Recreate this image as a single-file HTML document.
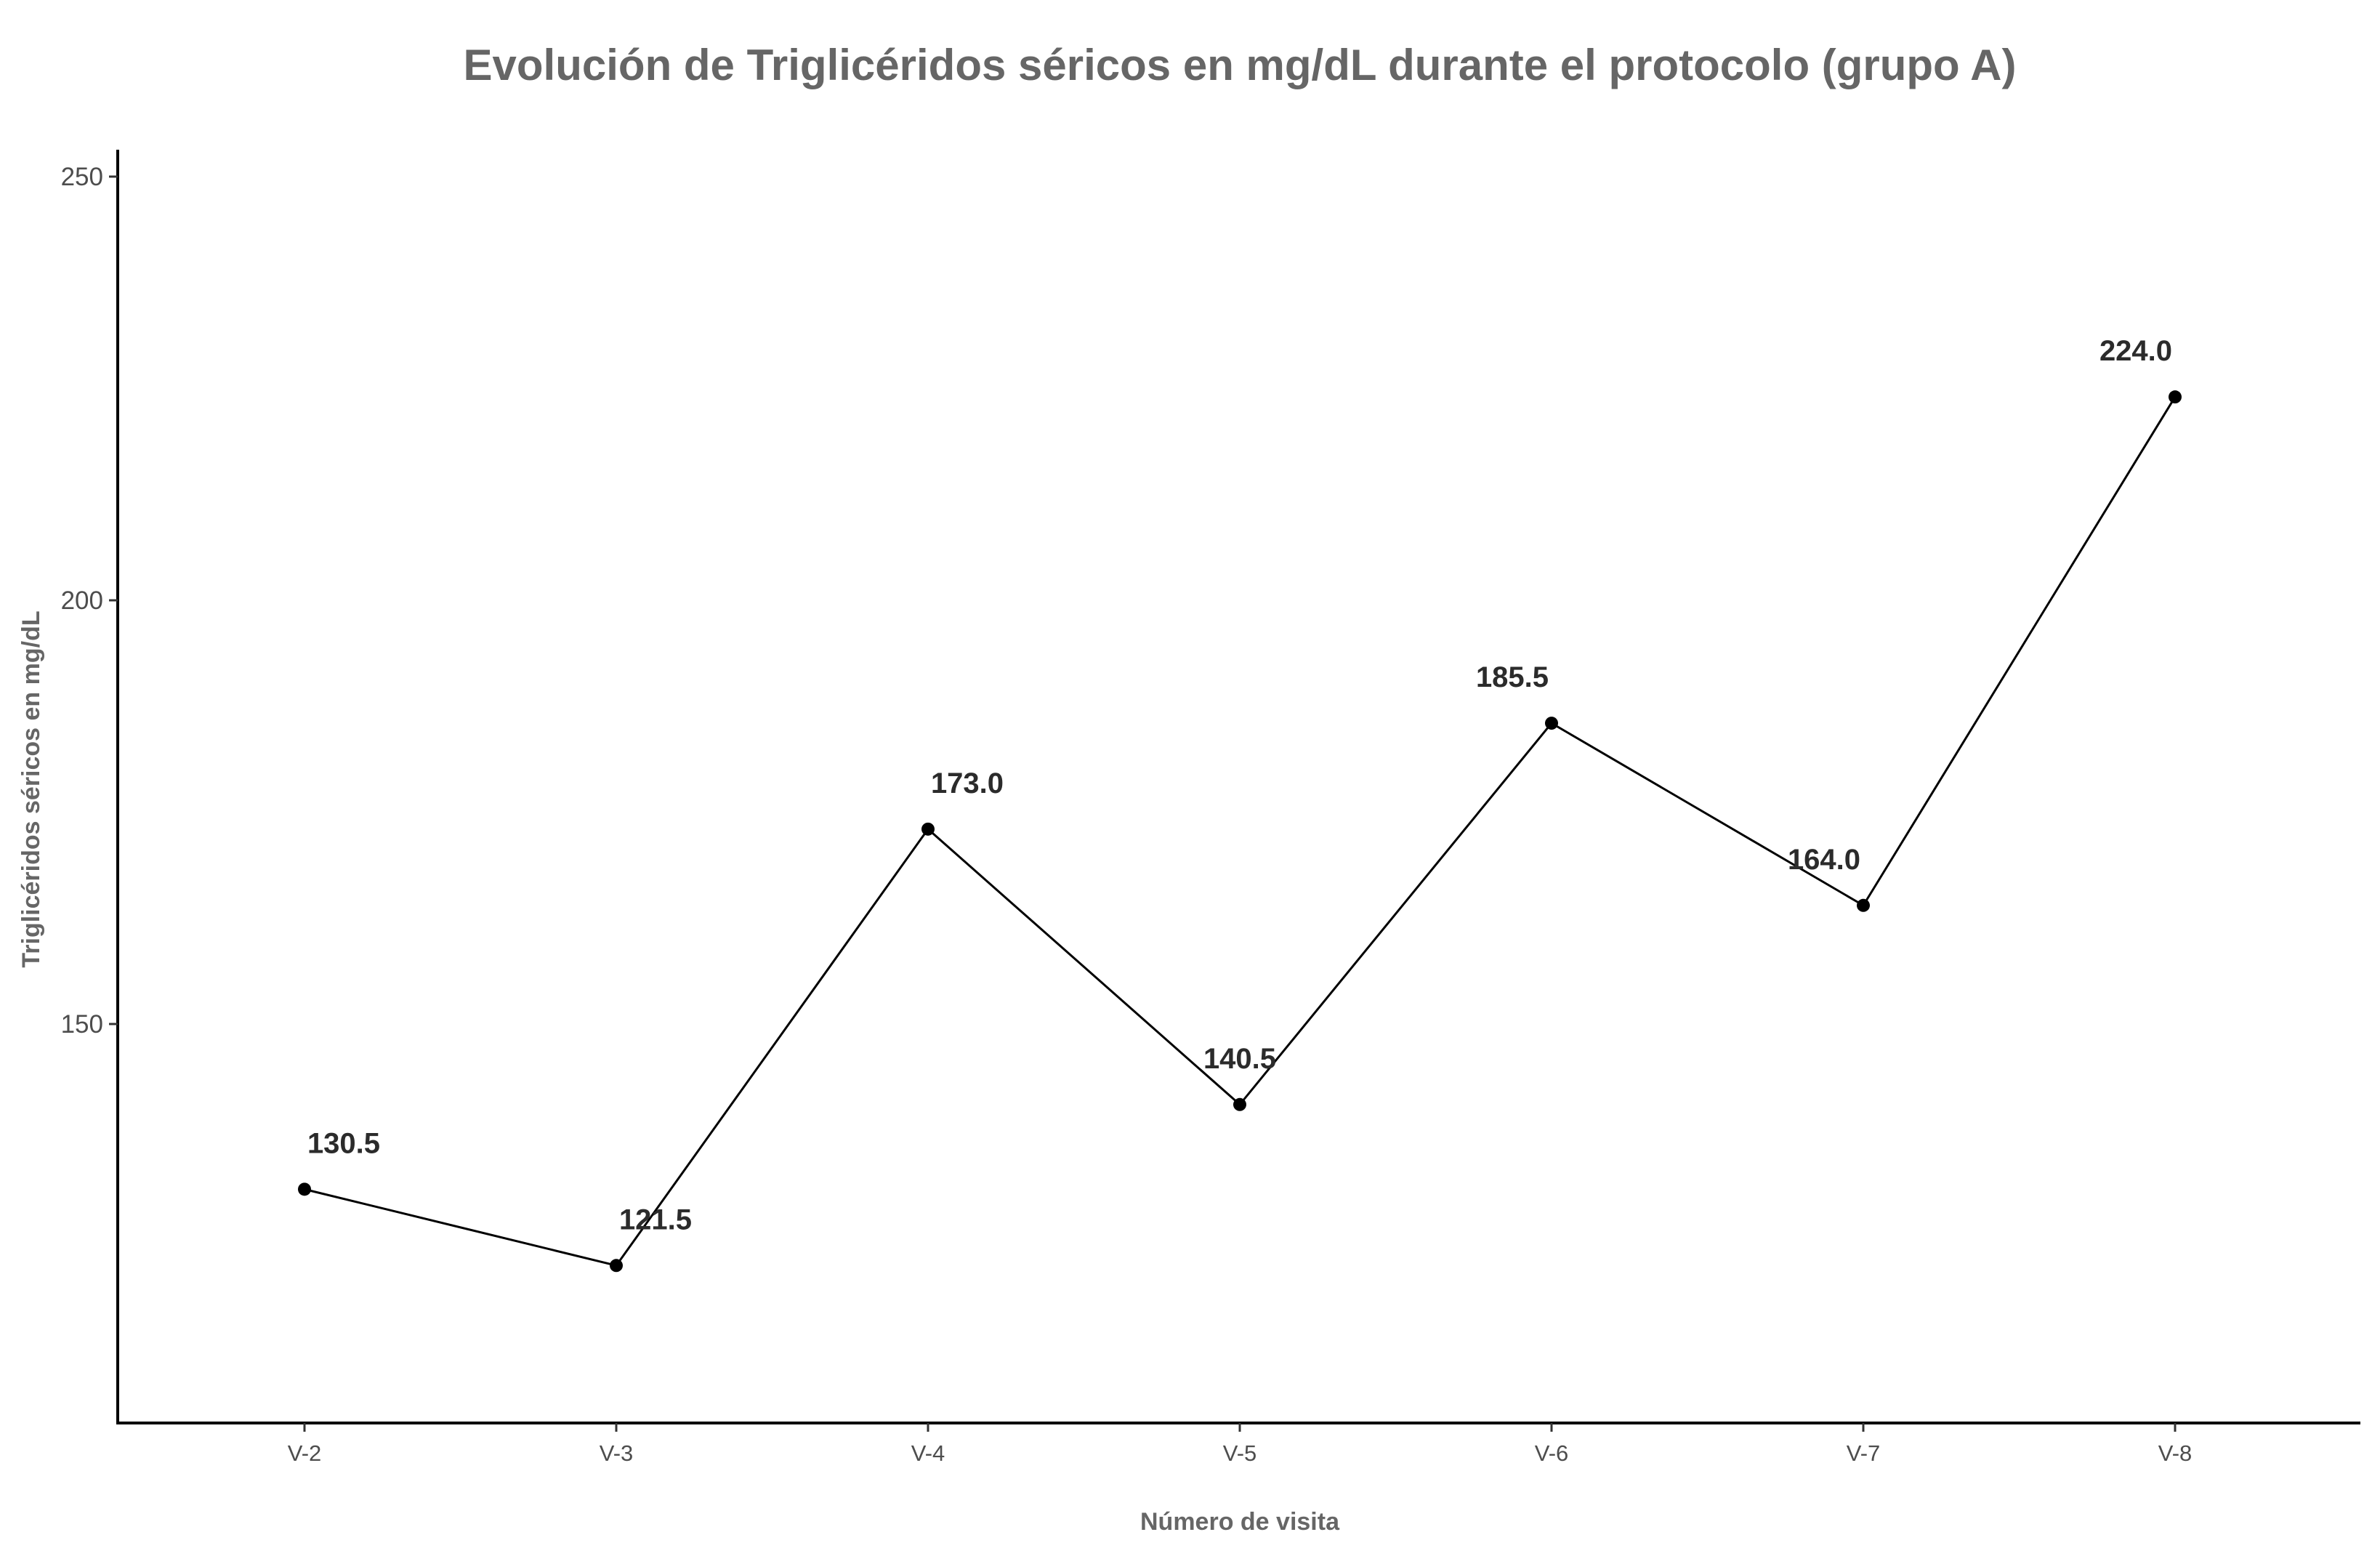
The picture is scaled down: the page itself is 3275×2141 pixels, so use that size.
<!DOCTYPE html>
<html><head><meta charset="utf-8"><style>
html,body{margin:0;padding:0;background:#fff;}
svg{display:block;font-family:"Liberation Sans",Arial,sans-serif;}
</style></head><body>
<svg id="chart" width="3275" height="2141" viewBox="0 0 3275 2141">
<text x="1706" y="110" text-anchor="middle" font-size="60" font-weight="bold" fill="#666">Evolución de Triglicéridos séricos en mg/dL durante el protocolo (grupo A)</text>
<text x="1706" y="2105" text-anchor="middle" font-size="34" font-weight="bold" fill="#666">Número de visita</text>
<text transform="translate(54,1086) rotate(-90)" text-anchor="middle" font-size="34" font-weight="bold" fill="#666">Triglicéridos séricos en mg/dL</text>
<g id="axes"></g>
<g id="marks"></g>
</svg>
<script>
const categories = ["V-2","V-3","V-4","V-5","V-6","V-7","V-8"];
const values = [130.5,121.5,173.0,140.5,185.5,164.0,224.0];
const yTicks = [150,200,250];
const labelDx = [54,54,54,0,-54,-54,-54];

const NS="http://www.w3.org/2000/svg";
const plotLeft=162, plotRight=3248, plotTop=206, plotBottom=1958;
function xs(i){return 419+i*429;}
function ys(v){return 826-(v-200)*583/50;}
function mk(tag,attrs,parent){const e=document.createElementNS(NS,tag);for(const k in attrs)e.setAttribute(k,attrs[k]);parent.appendChild(e);return e;}
const axesG=document.getElementById('axes'), marksG=document.getElementById('marks');
let ax=mk('line',{x1:plotLeft,y1:plotTop,x2:plotLeft,y2:plotBottom+2,stroke:'#000','stroke-width':4},axesG);


ax=mk('line',{x1:plotLeft-2,y1:plotBottom,x2:plotRight,y2:plotBottom,stroke:'#000','stroke-width':4},axesG);


yTicks.forEach(t=>{
  const y=ys(t);
  const l=mk('line',{x1:plotLeft-12,y1:y,x2:plotLeft,y2:y,stroke:'#333','stroke-width':3},axesG);
  
  
  const tx=mk('text',{x:plotLeft-20,y:y+12,'text-anchor':'end','font-size':35,fill:'#4d4d4d'},axesG);
  tx.textContent=t;
  
  
});
categories.forEach((c,i)=>{
  const x=xs(i);
  const l=mk('line',{x1:x,y1:plotBottom,x2:x,y2:plotBottom+12,stroke:'#333','stroke-width':3},axesG);
  
  
  const tx=mk('text',{x:x,y:plotBottom+52,'text-anchor':'middle','font-size':31,fill:'#4d4d4d'},axesG);
  tx.textContent=c;
  
  
});
const pts=values.map((v,i)=>xs(i)+','+ys(v)).join(' ');
const pl=mk('polyline',{points:pts,fill:'none',stroke:'#000','stroke-width':3},marksG);


values.forEach((v,i)=>{
  const c=mk('circle',{cx:xs(i),cy:ys(v),r:9,fill:'#000'},marksG);
  
  
  const t=mk('text',{x:xs(i)+labelDx[i],y:ys(v)-50,'text-anchor':'middle','font-size':40,'font-weight':'bold',fill:'#2b2b2b'},marksG);
  t.textContent=v.toFixed(1);
  
  
});
</script>
</body></html>
